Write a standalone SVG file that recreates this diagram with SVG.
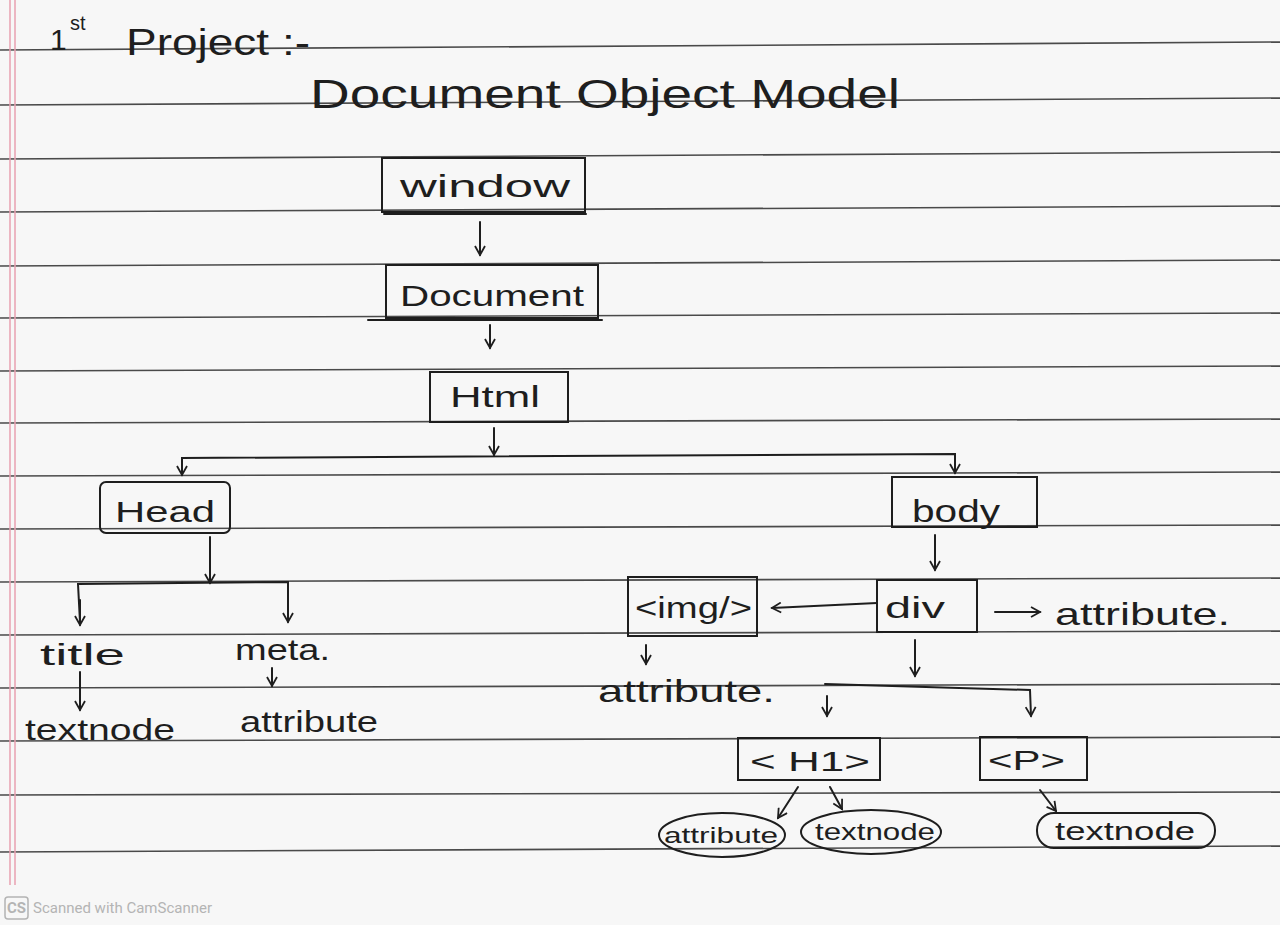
<svg xmlns="http://www.w3.org/2000/svg" width="1280" height="925" viewBox="0 0 1280 925">
<defs>
<style>
.rule{stroke:#4a4a4a;stroke-width:1.6;fill:none}
.margin{stroke:#e8a0b0;stroke-width:1.5}
.box{fill:none;stroke:#1e1e1e;stroke-width:2}
.ln{fill:none;stroke:#1e1e1e;stroke-width:2;stroke-linecap:round}
.t{font-family:"Liberation Sans",Arial,sans-serif;fill:#1e1e1e}
.foot{font-family:Roboto,"Liberation Sans",sans-serif;fill:#b4b4b4;font-size:15px}
</style>
<marker id="ah" viewBox="0 0 12 12" refX="10" refY="6" markerWidth="12" markerHeight="12" markerUnits="userSpaceOnUse" orient="auto">
<path d="M1,1 L10,6 L1,11" fill="none" stroke="#1e1e1e" stroke-width="1.8"/>
</marker>
</defs>
<rect width="1280" height="925" fill="#f7f7f7"/>
<g id="paper">
<path class="rule" d="M0,50 L1280,42"/>
<path class="rule" d="M0,105 L1280,98"/>
<path class="rule" d="M0,159 L1280,152"/>
<path class="rule" d="M0,212 L1280,206"/>
<path class="rule" d="M0,266 L1280,260"/>
<path class="rule" d="M0,318 L1280,313"/>
<path class="rule" d="M0,371 L1280,366"/>
<path class="rule" d="M0,423 L1280,419"/>
<path class="rule" d="M0,476 L1280,472"/>
<path class="rule" d="M0,529 L1280,525"/>
<path class="rule" d="M0,582 L1280,578"/>
<path class="rule" d="M0,635 L1280,631"/>
<path class="rule" d="M0,688 L1280,684"/>
<path class="rule" d="M0,741 L1280,737"/>
<path class="rule" d="M0,795 L1280,792"/>
<path class="rule" d="M0,852 L1280,846"/>
<line class="margin" x1="10" y1="0" x2="10" y2="885"/>
<line class="margin" x1="15" y1="0" x2="15" y2="885"/>
</g>
<g id="title">
<text class="t" x="50" y="50" font-size="30">1</text>
<text class="t" x="70" y="30" font-size="20">st</text>
<text class="t" x="126" y="55" font-size="36" textLength="184" lengthAdjust="spacingAndGlyphs">Project :-</text>
</g>
<g id="heading">
<text class="t" x="310" y="108" font-size="40" textLength="590" lengthAdjust="spacingAndGlyphs">Document Object Model</text>
</g>
<g id="connectors">
<line class="ln" x1="480" y1="222" x2="480" y2="255" marker-end="url(#ah)"/>
<line class="ln" x1="490" y1="325" x2="490" y2="348" marker-end="url(#ah)"/>
<line class="ln" x1="494" y1="428" x2="494" y2="455" marker-end="url(#ah)"/>
<path class="ln" d="M182,475 L182,458 L955,454 L955,473" marker-end="url(#ah)"/>
<line class="ln" x1="182" y1="462" x2="182" y2="475" marker-end="url(#ah)"/>
<line class="ln" x1="210" y1="537" x2="210" y2="583" marker-end="url(#ah)"/>
<path class="ln" d="M80,622 L78,584 L288,582 L288,622" marker-end="url(#ah)"/>
<line class="ln" x1="80" y1="600" x2="80" y2="625" marker-end="url(#ah)"/>
<line class="ln" x1="80" y1="672" x2="80" y2="710" marker-end="url(#ah)"/>
<line class="ln" x1="272" y1="668" x2="272" y2="686" marker-end="url(#ah)"/>
<line class="ln" x1="935" y1="535" x2="935" y2="570" marker-end="url(#ah)"/>
<line class="ln" x1="877" y1="603" x2="772" y2="608" marker-end="url(#ah)"/>
<line class="ln" x1="995" y1="612" x2="1040" y2="612" marker-end="url(#ah)"/>
<line class="ln" x1="646" y1="645" x2="646" y2="664" marker-end="url(#ah)"/>
<line class="ln" x1="915" y1="640" x2="915" y2="676" marker-end="url(#ah)"/>
<path class="ln" d="M825,684 L1030,690 L1031,716" marker-end="url(#ah)"/>
<line class="ln" x1="827" y1="696" x2="827" y2="716" marker-end="url(#ah)"/>
<line class="ln" x1="798" y1="787" x2="778" y2="818" marker-end="url(#ah)"/>
<line class="ln" x1="830" y1="787" x2="842" y2="809" marker-end="url(#ah)"/>
<line class="ln" x1="1040" y1="790" x2="1056" y2="811" marker-end="url(#ah)"/>
<line class="ln" x1="368" y1="320" x2="602" y2="320"/>
</g>
<g id="window">
<rect class="box" x="382" y="158" width="203" height="54"/>
<line class="ln" x1="384" y1="214" x2="586" y2="214"/>
<text class="t" x="400" y="197" font-size="32" textLength="170" lengthAdjust="spacingAndGlyphs">window</text>
</g>
<g id="document">
<rect class="box" x="386" y="265" width="212" height="53"/>
<text class="t" x="400" y="306" font-size="30" textLength="184" lengthAdjust="spacingAndGlyphs">Document</text>
</g>
<g id="html">
<rect class="box" x="430" y="372" width="138" height="50"/>
<text class="t" x="450" y="407" font-size="30" textLength="90" lengthAdjust="spacingAndGlyphs">Html</text>
</g>
<g id="head">
<rect class="box" x="100" y="482" width="130" height="51" rx="6"/>
<text class="t" x="115" y="522" font-size="30" textLength="100" lengthAdjust="spacingAndGlyphs">Head</text>
</g>
<g id="body">
<rect class="box" x="892" y="477" width="145" height="50"/>
<text class="t" x="912" y="522" font-size="32" textLength="88" lengthAdjust="spacingAndGlyphs">body</text>
</g>
<g id="title-node">
<text class="t" x="40" y="665" font-size="30" textLength="85" lengthAdjust="spacingAndGlyphs">title</text>
</g>
<g id="meta">
<text class="t" x="235" y="660" font-size="30" textLength="95" lengthAdjust="spacingAndGlyphs">meta.</text>
</g>
<g id="title-textnode">
<text class="t" x="25" y="740" font-size="30" textLength="150" lengthAdjust="spacingAndGlyphs">textnode</text>
</g>
<g id="meta-attribute">
<text class="t" x="240" y="732" font-size="30" textLength="138" lengthAdjust="spacingAndGlyphs">attribute</text>
</g>
<g id="div">
<rect class="box" x="877" y="580" width="100" height="52"/>
<text class="t" x="885" y="618" font-size="30" textLength="60" lengthAdjust="spacingAndGlyphs">div</text>
</g>
<g id="div-attribute">
<text class="t" x="1055" y="625" font-size="32" textLength="175" lengthAdjust="spacingAndGlyphs">attribute.</text>
</g>
<g id="img">
<rect class="box" x="628" y="577" width="129" height="59"/>
<text class="t" x="635" y="618" font-size="30" textLength="117" lengthAdjust="spacingAndGlyphs">&lt;img/&gt;</text>
</g>
<g id="img-attribute">
<text class="t" x="598" y="702" font-size="32" textLength="177" lengthAdjust="spacingAndGlyphs">attribute.</text>
</g>
<g id="h1">
<rect class="box" x="738" y="738" width="142" height="42"/>
<text class="t" x="750" y="771" font-size="28" textLength="120" lengthAdjust="spacingAndGlyphs">&lt; H1&gt;</text>
</g>
<g id="p">
<rect class="box" x="980" y="737" width="107" height="43"/>
<text class="t" x="988" y="770" font-size="28" textLength="77" lengthAdjust="spacingAndGlyphs">&lt;P&gt;</text>
</g>
<g id="h1-attribute">
<ellipse class="box" cx="722" cy="835" rx="63" ry="22"/>
<text class="t" x="664" y="843" font-size="22" textLength="114" lengthAdjust="spacingAndGlyphs">attribute</text>
</g>
<g id="h1-textnode">
<ellipse class="box" cx="871" cy="832" rx="70" ry="22"/>
<text class="t" x="815" y="840" font-size="24" textLength="120" lengthAdjust="spacingAndGlyphs">textnode</text>
</g>
<g id="p-textnode">
<rect class="box" x="1037" y="813" width="178" height="35" rx="17"/>
<text class="t" x="1055" y="840" font-size="26" textLength="140" lengthAdjust="spacingAndGlyphs">textnode</text>
</g>
<g id="footer">
<rect x="5" y="897" width="23" height="22" rx="3" fill="none" stroke="#b4b4b4" stroke-width="1.5"/>
<text class="foot" x="16.5" y="913" text-anchor="middle" font-weight="bold" font-size="13">CS</text>
<text class="foot" x="33" y="913" textLength="179" lengthAdjust="spacingAndGlyphs">Scanned with CamScanner</text>
</g>
</svg>
